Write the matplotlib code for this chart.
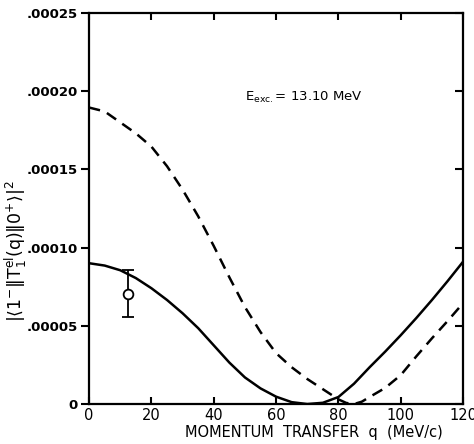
import numpy as np
import matplotlib
matplotlib.use("Agg")
import matplotlib.pyplot as plt

plt.rcParams['font.family'] = ['DejaVu Sans']
plt.rcParams['mathtext.fontset'] = 'dejavusans'
plt.rcParams['mathtext.default'] = 'regular'

# momentum transfer q (MeV/c)
q_solid = [0, 5, 10, 15, 20, 25, 30, 35, 40, 45, 50, 55, 60, 65, 70, 75,
           80, 85, 90, 95, 100, 105, 110, 115, 120]
solid = [9.0e-5, 8.85e-5, 8.55e-5, 8.05e-5, 7.4e-5, 6.65e-5, 5.8e-5, 4.85e-5,
         3.75e-5, 2.65e-5, 1.7e-5, 1.0e-5, 0.47e-5, 0.12e-5, 0.0, 0.08e-5,
         0.45e-5, 1.3e-5, 2.35e-5, 3.35e-5, 4.4e-5, 5.5e-5, 6.65e-5, 7.85e-5, 9.1e-5]

q_dashed = [0, 5, 10, 15, 20, 25, 30, 35, 40, 45, 50, 55, 60, 65, 70, 75,
            80, 82.5, 85, 87.5, 90, 95, 100, 105, 110, 115, 120]
dashed = [1.895e-4, 1.87e-4, 1.80e-4, 1.73e-4, 1.645e-4, 1.52e-4, 1.37e-4,
          1.20e-4, 1.01e-4, 8.1e-5, 6.2e-5, 4.6e-5, 3.25e-5, 2.35e-5, 1.6e-5,
          0.95e-5, 0.3e-5, 0.07e-5, 0.0, 0.15e-5, 0.45e-5, 1.03e-5, 1.85e-5,
          3.05e-5, 4.2e-5, 5.3e-5, 6.45e-5]

# measured point
q_pt = [12.6]
v_pt = [7.05e-5]
err_pt = [1.5e-5]

yticks = [0, 5e-5, 10e-5, 15e-5, 20e-5, 25e-5]
ytick_labels = ['0', '.00005', '.00010', '.00015', '.00020', '.00025']
xticks = [0, 20, 40, 60, 80, 100, 120]

fig = plt.figure(figsize=(4.74, 4.44), dpi=100)
ax = fig.add_axes([0.188, 0.090, 0.789, 0.881])

ax.plot(q_solid, solid, color='black', lw=1.8)
ax.plot(q_dashed, dashed, color='black', lw=1.8, dashes=(4.5, 3))
ax.errorbar(q_pt, v_pt, yerr=err_pt, fmt='o', mfc='white', mec='black',
            ms=7, mew=1.3, ecolor='black', elinewidth=1.3, capsize=4, capthick=1.3)

ax.set_xlim(0, 120)
ax.set_ylim(0, 25e-5)
ax.set_xticks(xticks)
ax.set_yticks(yticks)
ax.set_yticklabels(ytick_labels, fontsize=9.5, fontweight='bold')
ax.set_xticklabels([str(t) for t in xticks], fontsize=10.5)

for s in ax.spines.values():
    s.set_linewidth(1.6)

ax.tick_params(axis='x', direction='in', length=5, width=1.5, top=True, pad=3)
ax.tick_params(axis='y', direction='out', length=6, width=1.5, pad=2)
ax.tick_params(axis='y', which='major', right=True)
for t in ax.yaxis.get_ticklines()[1::2]:
    t.set_marker(0)  # right ticks point inward
    t.set_markersize(6)

ax.set_xlabel('MOMENTUM  TRANSFER  q  (MeV/c)', fontsize=10.5, labelpad=1, x=0.60)
ax.set_ylabel(r'$|\langle 1^{-}\Vert T_{1}^{el}(q)\Vert 0^{+}\rangle|^{2}$',
              fontsize=12.5)
ax.yaxis.set_label_coords(-0.16, 0.39)

ax.text(50, 1.96e-4, r'E$_{exc.}$= 13.10 MeV', fontsize=9.5, va='center')

fig.savefig('out.png', dpi=100)
